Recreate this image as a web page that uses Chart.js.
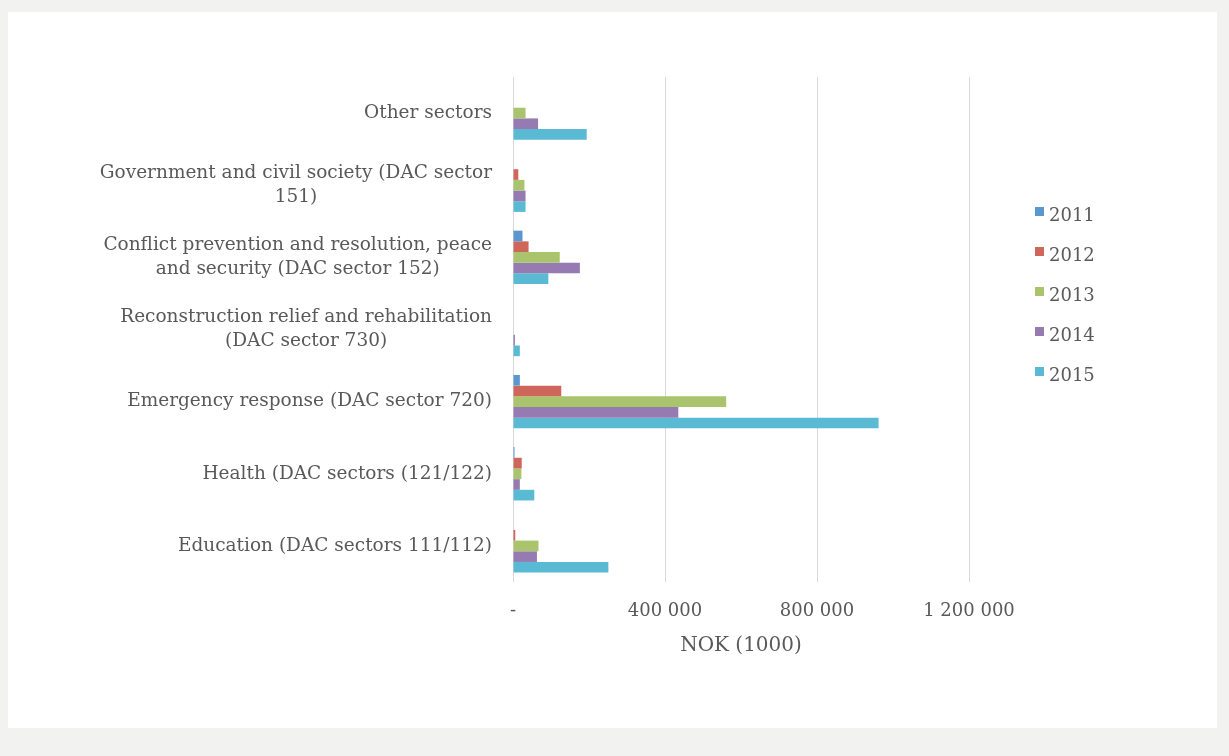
<!DOCTYPE html>
<html><head><meta charset="utf-8">
<script src="https://cdn.jsdelivr.net/npm/chart.js@4"></script>
<style>
html,body{margin:0;padding:0;background:#f2f2f1;width:1229px;height:756px;overflow:hidden}
#panel{position:absolute;left:8px;top:12px;width:1209px;height:716px;background:#fff}
canvas{position:absolute;left:0;top:0}
.lg{position:absolute;font-family:'DejaVu Serif';font-size:18px;color:#595959;line-height:22px;white-space:nowrap}
.sw{position:absolute;width:9px;height:9px}
</style></head>
<body>
<div id="panel"><canvas id="c" width="1209" height="716"></canvas><div id="legend"></div></div>
<script>
const categories = [
  'Other sectors',
  ['Government and civil society (DAC sector', '151)'],
  ['Conflict prevention and resolution, peace', 'and security (DAC sector 152)'],
  ['Reconstruction relief and rehabilitation', '(DAC sector 730)'],
  'Emergency response (DAC sector 720)',
  'Health (DAC sectors (121/122)',
  'Education (DAC sectors 111/112)'
];
const seriesNames = ['2011', '2012', '2013', '2014', '2015'];
const v2011 = [0, 0, 25000, 0, 18000, 4000, 0];
const v2012 = [0, 14000, 41000, 0, 127000, 23000, 6000];
const v2013 = [33000, 30000, 123000, 0, 561000, 22000, 67000];
const v2014 = [66000, 33000, 176000, 5000, 435000, 18000, 63000];
const v2015 = [194000, 33000, 93000, 18000, 962000, 56000, 251000];
const xTicks = [0, 400000, 800000, 1200000];
const axisTitle = 'NOK (1000)';

const colors = ['#5b97cf', '#cf665c', '#a9c46c', '#957bb2', '#5bbad3'];
const values = [v2011, v2012, v2013, v2014, v2015];
const FONT = 'DejaVu Serif';
const TXT = '#595959';

const fmt = v => v === 0 ? '-' : String(v).replace(/\B(?=(\d{3})+(?!\d))/g, ' ');

// Draws category labels: right-aligned block, each multi-line block centred on its widest line
const yLabelPlugin = {
  id: 'yLabels',
  afterDraw(chart) {
    const ctx = chart.ctx, ys = chart.scales.y;
    const right = chart.chartArea.left - 21;
    const lh = 24;
    ctx.save();
    ctx.font = '18.5px "DejaVu Serif"';
    ctx.fillStyle = TXT;
    ctx.textBaseline = 'middle';
    ctx.textAlign = 'center';
    chart.data.labels.forEach((lab, i) => {
      const lines = Array.isArray(lab) ? lab : [lab];
      const widest = Math.max(...lines.map(l => ctx.measureText(l).width));
      const cx = right - widest / 2;
      const yc = ys.getPixelForTick(i);
      const y0 = yc - (lines.length - 1) * lh / 2;
      lines.forEach((l, k) => ctx.fillText(l, cx, y0 + k * lh));
    });
    ctx.restore();
  }
};

new Chart(document.getElementById('c'), {
  type: 'bar',
  data: {
    labels: categories,
    datasets: seriesNames.map((n, i) => ({
      label: n, data: values[i], backgroundColor: colors[i], borderWidth: 0,
      categoryPercentage: 0.74, barPercentage: 1
    }))
  },
  plugins: [yLabelPlugin],
  options: {
    responsive: false, animation: false, indexAxis: 'y',
    layout: { padding: { top: 65, right: 248, bottom: 0, left: 0 } },
    plugins: { legend: { display: false }, tooltip: { enabled: false } },
    scales: {
      x: {
        min: 0, max: 1200000,
        afterBuildTicks(s) { s.ticks = xTicks.map(v => ({ value: v })); },
        ticks: { callback: v => fmt(v), color: TXT, font: { family: FONT, size: 18 }, padding: 19, maxRotation: 0 },
        grid: { color: '#d9d9d9', drawTicks: false, lineWidth: 1 },
        border: { display: false },
        title: { display: true, text: axisTitle, color: TXT, font: { family: FONT, size: 20 }, padding: { top: 0, bottom: 70 } },
        afterFit(s) { s.height = 146; }
      },
      y: {
        grid: { display: false }, border: { display: false },
        ticks: { display: false, autoSkip: false },
        afterFit(s) { s.width = 505; }
      }
    }
  }
});

const lg = document.getElementById('legend');
seriesNames.forEach((n, i) => {
  const yc = 203 + 40 * i;
  const sw = document.createElement('div');
  sw.className = 'sw'; sw.style.background = colors[i];
  sw.style.left = '1027px'; sw.style.top = (yc - 8) + 'px';
  lg.appendChild(sw);
  const t = document.createElement('div');
  t.className = 'lg'; t.textContent = n;
  t.style.left = '1041px'; t.style.top = (yc - 11) + 'px';
  lg.appendChild(t);
});
</script>
</body></html>
